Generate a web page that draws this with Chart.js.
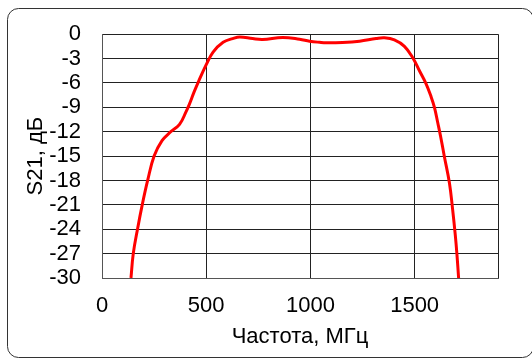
<!DOCTYPE html>
<html lang="ru">
<head>
<meta charset="UTF-8">
<title>S21</title>
<script src="https://cdn.jsdelivr.net/npm/chart.js"></script>
<style>
  html, body { margin: 0; padding: 0; background: #fff; }
  #wrap { width: 532px; height: 359px; }
</style>
</head>
<body>
<div id="wrap"><canvas id="myChart" width="532" height="359"></canvas></div>
<script>
// частота, МГц
const freq = [139, 150, 171, 193, 219, 250, 288, 330, 372, 404, 418, 442, 465, 499, 533, 581, 627, 661,
              723, 771, 867, 948, 996, 1044, 1076, 1154, 1236, 1315, 1355, 1403, 1451, 1491,
              1523, 1555, 1579, 1595, 1611, 1624, 1643, 1667, 1682, 1695, 1703, 1711];
// S21, дБ
const s21 = [-30, -27.0, -23.9, -21.0, -18.0, -15.0, -13.1, -12.0, -11.1, -9.5, -8.7, -7.1, -5.7, -3.8, -2.2, -1.0, -0.54, -0.34,
             -0.54, -0.64, -0.4, -0.62, -0.86, -1.0, -1.06, -1.02, -0.86, -0.54, -0.45, -0.7, -1.5, -2.9,
             -4.5, -6.1, -7.7, -9.0, -10.9, -12.5, -15.1, -18.3, -21.5, -24.7, -27.1, -30];
const xTicks = [0, 500, 1000, 1500, 1900];
const xTickLabels = ['0', '500', '1000', '1500', ''];
const yTicks = [0, -3, -6, -9, -12, -15, -18, -21, -24, -27, -30];

const points = freq.map((f, i) => ({ x: f, y: s21[i] }));

// рамка вокруг графика
const framePlugin = {
    id: 'frame',
    beforeDraw(chart) {
        const ctx = chart.ctx;
        ctx.save();
        ctx.strokeStyle = '#333';
        ctx.lineWidth = 1;
        ctx.beginPath();
        ctx.roundRect(7.5, 8.5, 526, 349, 11);
        ctx.stroke();
        ctx.restore();
    }
};

const font = { family: "'Liberation Sans', Arial, sans-serif", size: 22 };

new Chart(document.getElementById('myChart'), {
    type: 'scatter',
    data: {
        datasets: [{
            data: points,
            showLine: true,
            borderColor: '#ff0000',
            borderWidth: 3,
            pointRadius: 0,
            tension: 0.4
        }]
    },
    options: {
        responsive: false,
        animation: false,
        layout: { padding: { top: 27, right: 34, left: 0, bottom: 0 } },
        plugins: { legend: { display: false }, tooltip: { enabled: false } },
        scales: {
            x: {
                type: 'linear',
                min: 0,
                max: 1900,
                afterFit: s => { s.height = 81; },
                afterBuildTicks: s => { s.ticks = xTicks.map(v => ({ value: v })); },
                ticks: {
                    font: font,
                    color: '#000',
                    padding: 15,
                    maxRotation: 0,
                    autoSkip: false,
                    callback: (v) => xTickLabels[xTicks.indexOf(v)]
                },
                grid: { color: '#222', lineWidth: 1, drawTicks: false },
                border: { color: '#555', width: 1 },
                title: {
                    display: true,
                    text: 'Частота, МГц',
                    font: font,
                    color: '#000',
                    padding: { top: 0, bottom: 9 }
                }
            },
            y: {
                min: -30,
                max: 0,
                afterFit: s => { s.width = 102; },
                afterBuildTicks: s => { s.ticks = yTicks.map(v => ({ value: v })); },
                ticks: { font: font, color: '#000', padding: 21, autoSkip: false },
                grid: { color: '#222', lineWidth: 1, drawTicks: false },
                border: { color: '#555', width: 1 },
                title: {
                    display: true,
                    text: 'S21, дБ',
                    font: font,
                    color: '#000',
                    padding: { top: 23, bottom: 0 }
                }
            }
        }
    },
    plugins: [framePlugin]
});
</script>
</body>
</html>
